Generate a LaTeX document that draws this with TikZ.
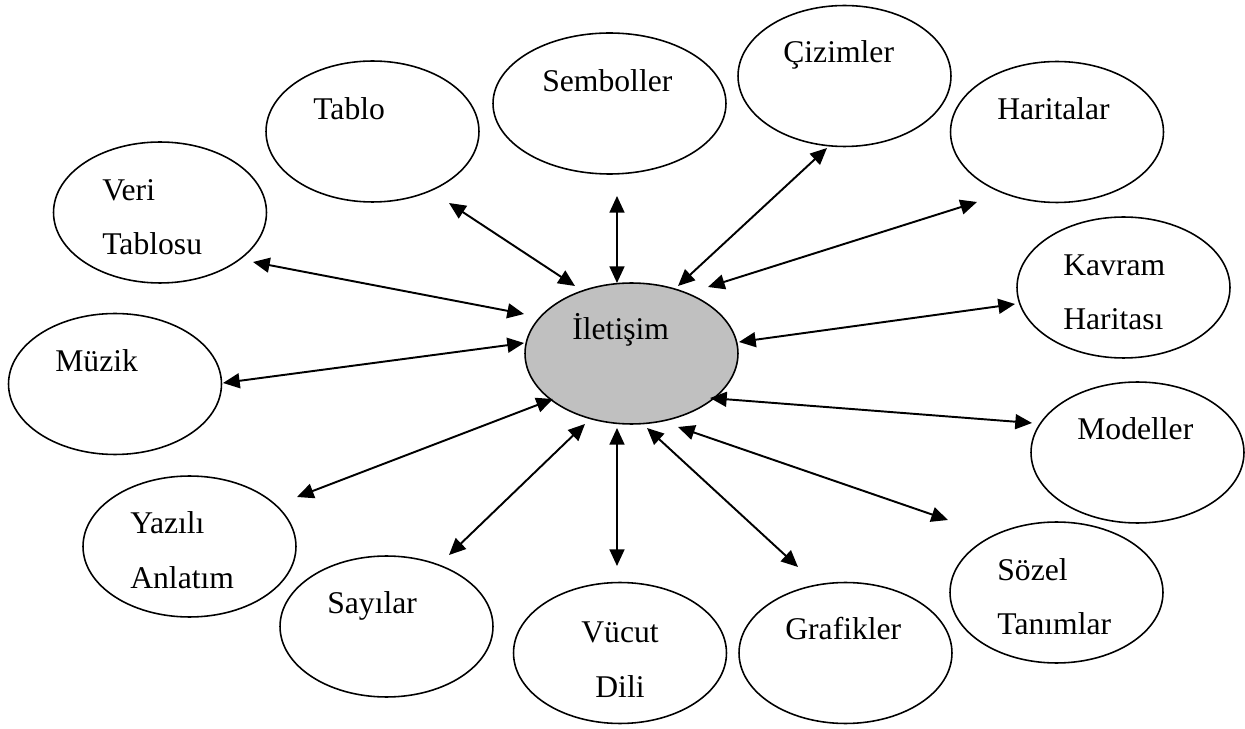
\documentclass[tikz,border=0pt]{standalone}
\usepackage{fontspec}
\setmainfont{Liberation Serif}
\usetikzlibrary{arrows.meta,positioning,shapes.geometric}
\definecolor{midgray}{HTML}{C0C0C0}
\tikzset{
  oval/.style={ellipse, draw=black, fill=white, line width=0.9pt,
               minimum width=4.26cm, minimum height=2.82cm, inner sep=0pt},
  ovalgr/.style={oval, fill=midgray},
  lbl/.style={font=\fontsize{18}{31.2}\selectfont, inner sep=0pt, anchor=base west, align=left},
  fl/.style={{Triangle[length=9.5pt,width=8.5pt]}-{Triangle[length=9.5pt,width=8.5pt]}, line width=1.1pt},
}

\begin{document}
\begin{tikzpicture}[x=0.02cm,y=-0.02cm]
  \useasboundingbox (0,0) rectangle (1245,729);
  % center and outer ellipses
  \node[ovalgr] (ilet) at (631.5,353.5) {};
  \node[oval] (tablo) at (372.5,131.5) {};
  \node[oval,minimum width=4.66cm] (semb) at (609.5,103.5) {};
  \node[oval] (cizim) at (844.5,76) {};
  \node[oval] (harit) at (1057,132) {};
  \node[oval] (veri) at (160,212.5) {};
  \node[oval] (kavram) at (1123.5,287.5) {};
  \node[oval] (muzik) at (115,384) {};
  \node[oval] (model) at (1137.5,452.5) {};
  \node[oval] (yazili) at (189.5,546.5) {};
  \node[oval] (sayi) at (386.5,626.5) {};
  \node[oval] (vucut) at (620,653) {};
  \node[oval] (grafik) at (845.5,653) {};
  \node[oval] (sozel) at (1056.5,592.5) {};
  % texts (two-line texts sit on their last baseline)
  \node[lbl] (ilet-t) at (572,340) {İletişim};
  \node[lbl] (tablo-t) at (313,120) {Tablo};
  \node[lbl] (semb-t) at (542,92) {Semboller};
  \node[lbl] (cizim-t) at (783,63) {Çizimler};
  \node[lbl] (harit-t) at (997,120) {Haritalar};
  \node[lbl] (veri-t) at (102,255) {Veri\\Tablosu};
  \node[lbl] (kavram-t) at (1063,330) {Kavram\\Haritası};
  \node[lbl] (muzik-t) at (55,372) {Müzik};
  \node[lbl] (model-t) at (1077,440) {Modeller};
  \node[lbl] (yazili-t) at (130,588) {Yazılı\\Anlatım};
  \node[lbl] (sayi-t) at (327,614) {Sayılar};
  \node[lbl,anchor=base,align=center] (vucut-t) at (620,697) {Vücut\\Dili};
  \node[lbl] (grafik-t) at (785,640) {Grafikler};
  \node[lbl] (sozel-t) at (997,635) {Sözel\\Tanımlar};
  % double arrows
  \foreach \n/\ax/\ay/\bx/\by in {tablo/449/203/575/286, semb/617/196/617/283,
      cizim/827/148/678/286, harit/977/202/708/287, veri/253/262/524/314,
      muzik/223/383/524/343, kavram/1015/304/739/342, model/1032/423/710/398,
      yazili/297/497/553/399, sayi/449/555/585/424, vucut/617/566/617/428,
      grafik/798/567/647/428, sozel/948/520/678/427}{
    \coordinate (\n-a) at (\ax,\ay);
    \coordinate (\n-b) at (\bx,\by);
    \draw[fl] (\n-a) -- (\n-b);
  }
\end{tikzpicture}
\end{document}
